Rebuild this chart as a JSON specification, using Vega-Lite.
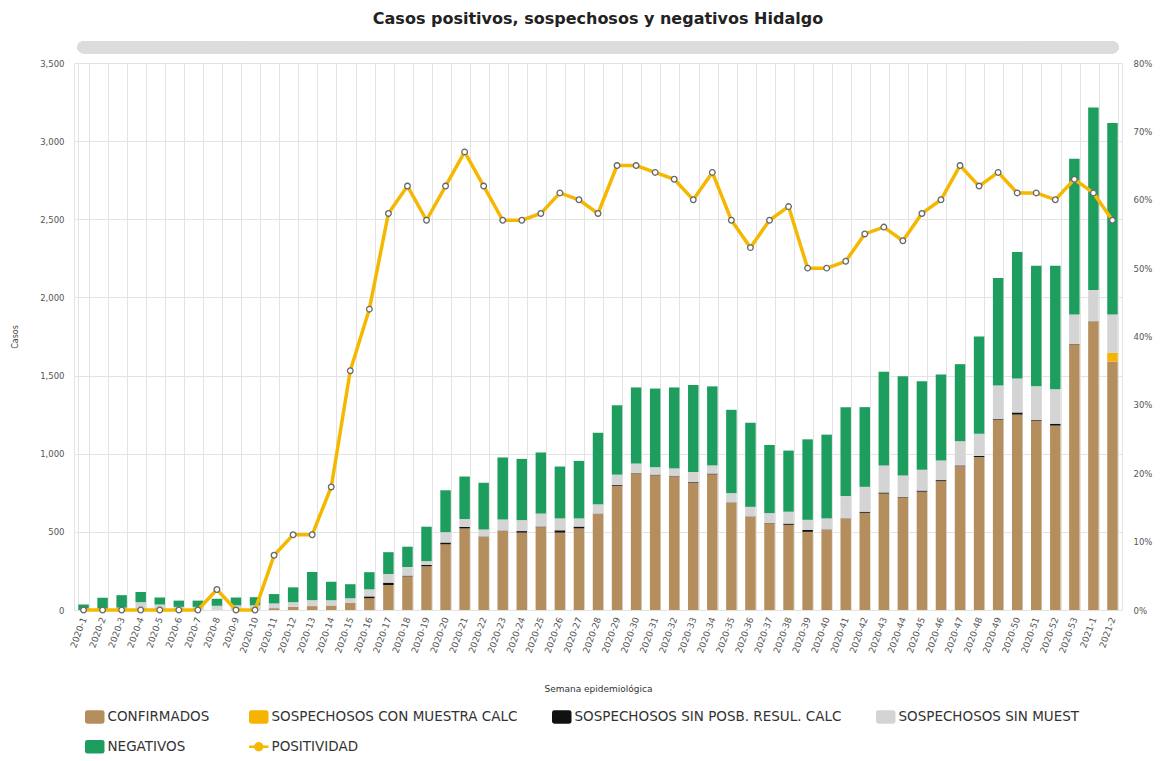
{
  "$schema": "https://vega.github.io/schema/vega-lite/v6.json",
  "width": 1048,
  "height": 547,
  "autosize": {"type": "none"},
  "padding": {"left": 74, "top": 63, "right": 43, "bottom": 151},
  "background": "white",
  "title": {"text": "Casos positivos, sospechosos y negativos Hidalgo", "font": "DejaVu Sans", "fontSize": 16, "fontWeight": "bold", "color": "#222222", "offset": 14, "anchor": "middle"},
  "config": {"view": {"stroke": "#e3e3e3"}, "font": "DejaVu Sans"},
  "data": {"values": [
    {"semana": "2020-1", "a_conf": 0, "b_scm": 0, "c_ssp": 0, "d_ssm": 0, "e_neg": 35, "pos": 0},
    {"semana": "2020-2", "a_conf": 0, "b_scm": 0, "c_ssp": 0, "d_ssm": 8, "e_neg": 70, "pos": 0},
    {"semana": "2020-3", "a_conf": 0, "b_scm": 0, "c_ssp": 0, "d_ssm": 15, "e_neg": 80, "pos": 0},
    {"semana": "2020-4", "a_conf": 5, "b_scm": 0, "c_ssp": 0, "d_ssm": 45, "e_neg": 65, "pos": 0},
    {"semana": "2020-5", "a_conf": 0, "b_scm": 0, "c_ssp": 0, "d_ssm": 35, "e_neg": 45, "pos": 0},
    {"semana": "2020-6", "a_conf": 0, "b_scm": 0, "c_ssp": 0, "d_ssm": 20, "e_neg": 40, "pos": 0},
    {"semana": "2020-7", "a_conf": 0, "b_scm": 0, "c_ssp": 0, "d_ssm": 20, "e_neg": 40, "pos": 0},
    {"semana": "2020-8", "a_conf": 2, "b_scm": 0, "c_ssp": 0, "d_ssm": 25, "e_neg": 45, "pos": 3},
    {"semana": "2020-9", "a_conf": 0, "b_scm": 0, "c_ssp": 0, "d_ssm": 30, "e_neg": 50, "pos": 0},
    {"semana": "2020-10", "a_conf": 0, "b_scm": 0, "c_ssp": 0, "d_ssm": 30, "e_neg": 52, "pos": 0},
    {"semana": "2020-11", "a_conf": 12, "b_scm": 0, "c_ssp": 0, "d_ssm": 30, "e_neg": 60, "pos": 8},
    {"semana": "2020-12", "a_conf": 20, "b_scm": 0, "c_ssp": 0, "d_ssm": 30, "e_neg": 95, "pos": 11},
    {"semana": "2020-13", "a_conf": 25, "b_scm": 0, "c_ssp": 0, "d_ssm": 38, "e_neg": 180, "pos": 11},
    {"semana": "2020-14", "a_conf": 28, "b_scm": 0, "c_ssp": 0, "d_ssm": 35, "e_neg": 117, "pos": 18},
    {"semana": "2020-15", "a_conf": 45, "b_scm": 0, "c_ssp": 0, "d_ssm": 30, "e_neg": 90, "pos": 35},
    {"semana": "2020-16", "a_conf": 75, "b_scm": 0, "c_ssp": 12, "d_ssm": 45, "e_neg": 110, "pos": 44},
    {"semana": "2020-17", "a_conf": 160, "b_scm": 0, "c_ssp": 15, "d_ssm": 55, "e_neg": 140, "pos": 58},
    {"semana": "2020-18", "a_conf": 215, "b_scm": 0, "c_ssp": 5, "d_ssm": 55, "e_neg": 130, "pos": 62},
    {"semana": "2020-19", "a_conf": 280, "b_scm": 0, "c_ssp": 8, "d_ssm": 25, "e_neg": 220, "pos": 57},
    {"semana": "2020-20", "a_conf": 420, "b_scm": 0, "c_ssp": 12, "d_ssm": 66, "e_neg": 268, "pos": 62},
    {"semana": "2020-21", "a_conf": 522, "b_scm": 0, "c_ssp": 10, "d_ssm": 50, "e_neg": 272, "pos": 67},
    {"semana": "2020-22", "a_conf": 467, "b_scm": 0, "c_ssp": 3, "d_ssm": 45, "e_neg": 299, "pos": 62},
    {"semana": "2020-23", "a_conf": 505, "b_scm": 0, "c_ssp": 3, "d_ssm": 71, "e_neg": 397, "pos": 57},
    {"semana": "2020-24", "a_conf": 495, "b_scm": 0, "c_ssp": 10, "d_ssm": 70, "e_neg": 392, "pos": 57},
    {"semana": "2020-25", "a_conf": 530, "b_scm": 0, "c_ssp": 4, "d_ssm": 83, "e_neg": 391, "pos": 58},
    {"semana": "2020-26", "a_conf": 495, "b_scm": 0, "c_ssp": 15, "d_ssm": 76, "e_neg": 332, "pos": 61},
    {"semana": "2020-27", "a_conf": 522, "b_scm": 0, "c_ssp": 12, "d_ssm": 52, "e_neg": 368, "pos": 60},
    {"semana": "2020-28", "a_conf": 615, "b_scm": 0, "c_ssp": 2, "d_ssm": 59, "e_neg": 458, "pos": 58},
    {"semana": "2020-29", "a_conf": 795, "b_scm": 0, "c_ssp": 5, "d_ssm": 66, "e_neg": 444, "pos": 65},
    {"semana": "2020-30", "a_conf": 875, "b_scm": 0, "c_ssp": 2, "d_ssm": 60, "e_neg": 487, "pos": 65},
    {"semana": "2020-31", "a_conf": 862, "b_scm": 0, "c_ssp": 4, "d_ssm": 48, "e_neg": 503, "pos": 64},
    {"semana": "2020-32", "a_conf": 855, "b_scm": 0, "c_ssp": 4, "d_ssm": 47, "e_neg": 518, "pos": 63},
    {"semana": "2020-33", "a_conf": 815, "b_scm": 0, "c_ssp": 4, "d_ssm": 64, "e_neg": 557, "pos": 60},
    {"semana": "2020-34", "a_conf": 868, "b_scm": 0, "c_ssp": 5, "d_ssm": 52, "e_neg": 506, "pos": 64},
    {"semana": "2020-35", "a_conf": 685, "b_scm": 0, "c_ssp": 3, "d_ssm": 60, "e_neg": 533, "pos": 57},
    {"semana": "2020-36", "a_conf": 595, "b_scm": 0, "c_ssp": 3, "d_ssm": 62, "e_neg": 538, "pos": 53},
    {"semana": "2020-37", "a_conf": 555, "b_scm": 0, "c_ssp": 3, "d_ssm": 62, "e_neg": 436, "pos": 57},
    {"semana": "2020-38", "a_conf": 545, "b_scm": 0, "c_ssp": 8, "d_ssm": 76, "e_neg": 391, "pos": 59},
    {"semana": "2020-39", "a_conf": 500, "b_scm": 0, "c_ssp": 12, "d_ssm": 65, "e_neg": 515, "pos": 50},
    {"semana": "2020-40", "a_conf": 512, "b_scm": 0, "c_ssp": 3, "d_ssm": 71, "e_neg": 536, "pos": 50},
    {"semana": "2020-41", "a_conf": 583, "b_scm": 0, "c_ssp": 3, "d_ssm": 143, "e_neg": 569, "pos": 51},
    {"semana": "2020-42", "a_conf": 622, "b_scm": 0, "c_ssp": 7, "d_ssm": 159, "e_neg": 510, "pos": 55},
    {"semana": "2020-43", "a_conf": 745, "b_scm": 0, "c_ssp": 7, "d_ssm": 173, "e_neg": 599, "pos": 56},
    {"semana": "2020-44", "a_conf": 720, "b_scm": 0, "c_ssp": 4, "d_ssm": 137, "e_neg": 634, "pos": 54},
    {"semana": "2020-45", "a_conf": 757, "b_scm": 0, "c_ssp": 7, "d_ssm": 133, "e_neg": 567, "pos": 58},
    {"semana": "2020-46", "a_conf": 824, "b_scm": 0, "c_ssp": 7, "d_ssm": 125, "e_neg": 551, "pos": 60},
    {"semana": "2020-47", "a_conf": 920, "b_scm": 0, "c_ssp": 5, "d_ssm": 155, "e_neg": 493, "pos": 65},
    {"semana": "2020-48", "a_conf": 978, "b_scm": 0, "c_ssp": 8, "d_ssm": 142, "e_neg": 622, "pos": 62},
    {"semana": "2020-49", "a_conf": 1218, "b_scm": 0, "c_ssp": 4, "d_ssm": 214, "e_neg": 688, "pos": 64},
    {"semana": "2020-50", "a_conf": 1250, "b_scm": 0, "c_ssp": 14, "d_ssm": 218, "e_neg": 808, "pos": 61},
    {"semana": "2020-51", "a_conf": 1210, "b_scm": 0, "c_ssp": 5, "d_ssm": 216, "e_neg": 771, "pos": 61},
    {"semana": "2020-52", "a_conf": 1180, "b_scm": 0, "c_ssp": 12, "d_ssm": 220, "e_neg": 790, "pos": 60},
    {"semana": "2020-53", "a_conf": 1700, "b_scm": 0, "c_ssp": 2, "d_ssm": 189, "e_neg": 997, "pos": 63},
    {"semana": "2021-1", "a_conf": 1846, "b_scm": 0, "c_ssp": 2, "d_ssm": 200, "e_neg": 1168, "pos": 61},
    {"semana": "2021-2", "a_conf": 1590, "b_scm": 55, "c_ssp": 0, "d_ssm": 246, "e_neg": 1225, "pos": 57}
  ]},
  "layer": [
    {
      "transform": [{"fold": ["a_conf", "b_scm", "c_ssp", "d_ssm", "e_neg"], "as": ["tipo", "casos"]}],
      "mark": {"type": "bar"},
      "encoding": {
        "x": {
          "field": "semana", "type": "nominal", "sort": null,
          "scale": {"paddingInner": 0.45, "paddingOuter": 0.225},
          "axis": {"title": "Semana epidemiológica", "titleFont": "DejaVu Sans", "titleFontSize": 9, "titleFontWeight": "normal", "titleColor": "#333333", "titlePadding": 30,
                   "labelAngle": -70, "labelFontSize": 9, "labelColor": "#555555", "labelPadding": 7,
                   "ticks": false, "domain": false, "grid": true, "gridColor": "#e3e3e3", "tickBand": "extent"}
        },
        "y": {
          "field": "casos", "type": "quantitative", "stack": "zero",
          "scale": {"domain": [0, 3500], "nice": false},
          "axis": {"orient": "left", "title": "Casos", "titleFontSize": 8, "titleFontWeight": "normal", "titleColor": "#444444", "titlePadding": 20,
                   "values": [0, 500, 1000, 1500, 2000, 2500, 3000, 3500], "format": ",.0f",
                   "labelFontSize": 8.5, "labelColor": "#555555", "labelPadding": 10,
                   "ticks": false, "domain": false, "grid": true, "gridColor": "#e3e3e3"}
        },
        "order": {"field": "tipo", "sort": "ascending"},
        "color": {
          "field": "tipo", "type": "nominal",
          "scale": {"domain": ["a_conf", "b_scm", "c_ssp", "d_ssm", "e_neg", "f_pos"], "range": ["#b48e5c", "#f4b400", "#111111", "#d4d4d4", "#1e9e5e", "#f5b800"]},
          "legend": {
            "orient": "bottom", "direction": "horizontal", "columns": 4, "title": null,
            "labelFont": "DejaVu Sans", "labelFontSize": 13.5, "labelColor": "#333333", "labelLimit": 400, "labelOffset": 6,
            "symbolSize": 380, "columnPadding": 34, "rowPadding": 14, "offset": 2, "padding": 14,
            "labelExpr": "datum.value == 'a_conf' ? 'CONFIRMADOS' : datum.value == 'b_scm' ? 'SOSPECHOSOS CON MUESTRA CALC' : datum.value == 'c_ssp' ? 'SOSPECHOSOS SIN POSB. RESUL. CALC' : datum.value == 'd_ssm' ? 'SOSPECHOSOS SIN MUEST' : datum.value == 'e_neg' ? 'NEGATIVOS' : 'POSITIVIDAD'",
            "encode": {
              "symbols": {
                "update": {
                  "shape": {"signal": "datum.value === 'f_pos' ? 'M-1,0H-0.35M0.35,0H1M0.35,0A0.35,0.35,0,1,1,-0.35,0A0.35,0.35,0,1,1,0.35,0Z' : 'M-0.75,-0.7H0.75Q1,-0.7,1,-0.45V0.45Q1,0.7,0.75,0.7H-0.75Q-1,0.7,-1,0.45V-0.45Q-1,-0.7,-0.75,-0.7Z'"},
                  "fill": {"signal": "datum.value === 'f_pos' ? 'white' : scale('color', datum.value)"},
                  "stroke": {"signal": "datum.value === 'f_pos' ? '#f5b800' : 'transparent'"},
                  "strokeWidth": {"signal": "datum.value === 'f_pos' ? 2.5 : 0"}
                }
              }
            }
          }
        }
      }
    },
    {
      "mark": {"type": "rule", "strokeWidth": 12, "strokeCap": "round", "color": "#dcdcdc"},
      "encoding": {
        "x": {"datum": "2020-1", "type": "nominal"},
        "x2": {"datum": "2021-2"},
        "y": {"datum": 3600, "type": "quantitative", "scale": {"domain": [0, 3500], "nice": false}, "axis": null}
      }
    },
    {
      "mark": {"type": "line", "color": "#f5b800", "strokeWidth": 3.5,
               "point": {"filled": true, "fill": "white", "stroke": "#666666", "strokeWidth": 1.3, "size": 32}},
      "encoding": {
        "x": {"field": "semana", "type": "nominal", "sort": null},
        "y": {
          "field": "pos", "type": "quantitative",
          "scale": {"domain": [0, 80], "nice": false},
          "axis": {"orient": "right", "title": null, "values": [0, 10, 20, 30, 40, 50, 60, 70, 80],
                   "labelExpr": "datum.value + '%'", "labelFontSize": 8.5, "labelColor": "#555555", "labelPadding": 11,
                   "ticks": false, "domain": false, "grid": false}
        }
      }
    }
  ],
  "resolve": {"scale": {"y": "independent"}}
}
